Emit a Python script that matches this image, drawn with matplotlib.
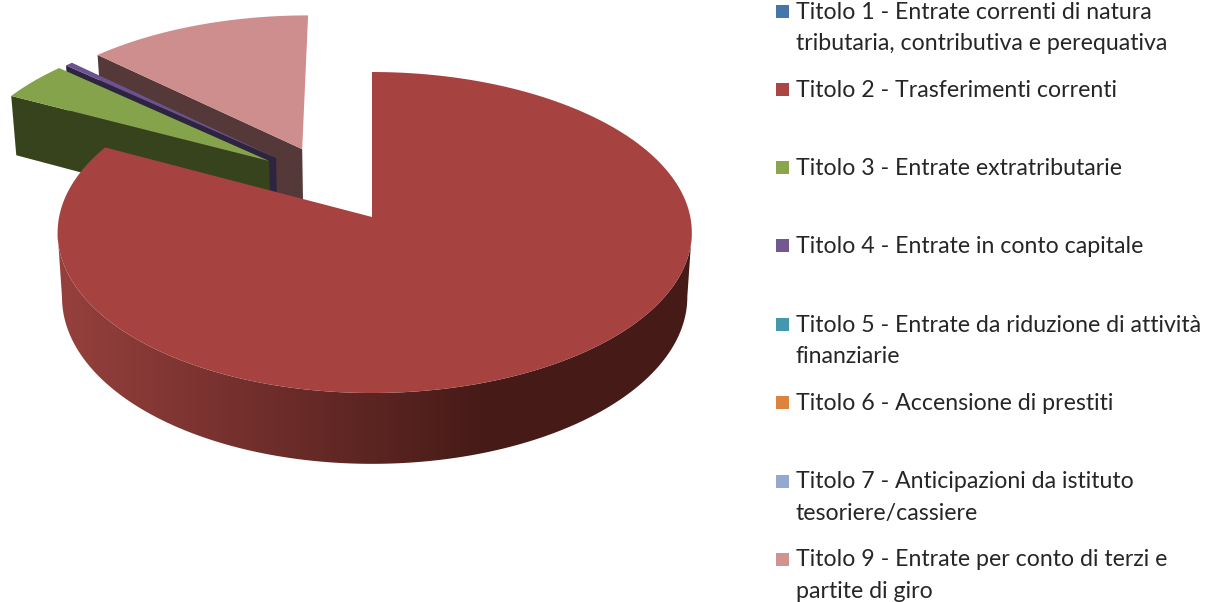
import matplotlib
matplotlib.use("Agg")
import matplotlib.pyplot as plt
import numpy as np
from matplotlib.colors import to_rgb
from matplotlib.patches import Polygon, Rectangle

titoli = ["Titolo 1", "Titolo 2", "Titolo 3", "Titolo 4", "Titolo 5", "Titolo 6", "Titolo 7", "Titolo 9"]
quote = [0.0, 82.55, 4.03, 0.44, 0.0, 0.0, 0.0, 12.98]
legenda = [
    "Titolo 1 - Entrate correnti di natura\ntributaria, contributiva e perequativa",
    "Titolo 2 - Trasferimenti correnti",
    "Titolo 3 - Entrate extratributarie",
    "Titolo 4 - Entrate in conto capitale",
    "Titolo 5 - Entrate da riduzione di attività\nfinanziarie",
    "Titolo 6 - Accensione di prestiti",
    "Titolo 7 - Anticipazioni da istituto\ntesoriere/cassiere",
    "Titolo 9 - Entrate per conto di terzi e\npartite di giro",
]

col_legenda = ["#4674AB", "#AA4643", "#89A54E", "#71588F", "#4198AF", "#DB843D", "#93A9CF", "#D19392"]
col_top = {"Titolo 2": "#A64340", "Titolo 3": "#85A34A", "Titolo 4": "#6B5392", "Titolo 9": "#CE8E8D"}
col_faccia = {"Titolo 2": "#451A17", "Titolo 3": "#37431D", "Titolo 4": "#2D2440", "Titolo 9": "#553838"}
# spostamento delle fette staccate, in unita' del raggio
stacco = {"Titolo 2": (0, 0), "Titolo 3": (-0.335, 0.365), "Titolo 4": (-0.313, 0.385), "Titolo 9": (-0.229, 0.445)}
raggio = {"Titolo 2": 0.9925, "Titolo 3": 1.0, "Titolo 4": 1.0, "Titolo 9": 1.0}

CX, CY = 372.0, 217.0
A, B, K = 318.0, 159.0, 0.0966
BASE = 0.986
H = 64.0


def proj(u, v, base=False):
    w = 1 / (1 + K * v)
    a = A * BASE if base else A
    return CX + a * u * w, CY - B * v * w + (H * w if base else 0)


fig = plt.figure(figsize=(12.06, 6.02), dpi=100)
ax = fig.add_axes([0, 0, 1, 1])
ax.axis("off")

# angoli di inizio e fine di ogni fetta
fine = np.cumsum(quote) / np.sum(quote) * 2 * np.pi
inizio = np.r_[0, fine[:-1]]
fette = {t: (a0, a1) for t, a0, a1 in zip(titoli, inizio, fine)}


def disegna_fetta(nome, z):
    a0, a1 = fette[nome]
    du, dv = stacco[nome]
    th = np.linspace(a0, a1, 400)
    u = du + raggio[nome] * np.sin(th)
    v = dv + np.cos(th)
    if nome == "Titolo 2":
        # il bordo della fetta grande e' un po' spostato a destra rispetto al vertice
        u = u + 0.0085 * np.sin(th) ** 2

    # faccia di taglio
    pts = [proj(du, dv), proj(u[0], v[0]), proj(u[0], v[0], True), proj(du, dv, True)]
    ax.fill(*zip(*pts), color=col_faccia[nome], lw=0, zorder=z)

    # fianco con sfumatura, solo per la fetta grande
    if nome == "Titolo 2":
        xt, yt = proj(u, v)
        xb, yb = proj(u, v, True)
        i0, i1 = np.argmax(xt), np.argmin(xt)
        bordo = np.r_[np.c_[xt[i0:i1 + 1], yt[i0:i1 + 1]], np.c_[xb[i0:i1 + 1], yb[i0:i1 + 1]][::-1]]
        chiaro = np.array(to_rgb("#96403D"))
        scuro = np.array(to_rgb("#451A17"))
        s = np.clip((np.arange(1206) - 60) / 430, 0, 1)[:, None]
        grad = (chiaro * (1 - s) + scuro * s)[None, :, :]
        im = ax.imshow(grad, extent=(0, 1206, 602, 0), aspect="auto", zorder=z + 0.1)
        im.set_clip_path(Polygon(bordo, closed=True, transform=ax.transData))

    xt, yt = proj(np.r_[du, u], np.r_[dv, v])
    ax.fill(xt, yt, color=col_top[nome], lw=0, zorder=z + 0.2)


for z, nome in enumerate(["Titolo 9", "Titolo 4", "Titolo 3", "Titolo 2"]):
    disegna_fetta(nome, z + 1)

# legenda
y_voci = [11.5, 89.5, 167.5, 245.5, 324, 402.5, 481, 559]
for y, testo, col in zip(y_voci, legenda, col_legenda):
    ax.add_patch(Rectangle((776, y - 6.5), 13, 13, facecolor=col, edgecolor="none", zorder=5))
    ax.text(796, y - 9.5, testo, family="Lato", fontsize=16.7, color="#262626", va="top", ha="left",
            linespacing=1.6, zorder=5)

ax.set_xlim(0, 1206)
ax.set_ylim(602, 0)
fig.savefig("out.png", dpi=100)
